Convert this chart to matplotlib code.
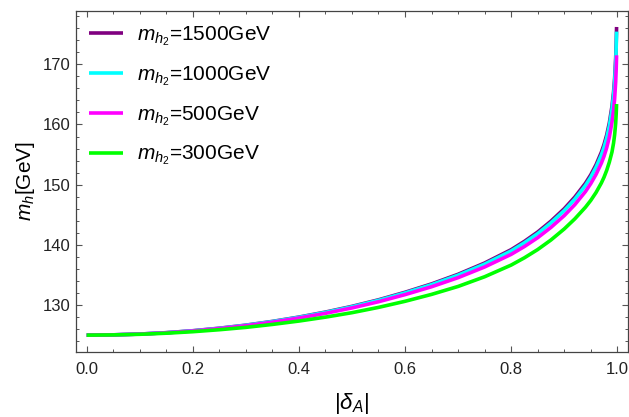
import numpy as np
import matplotlib
matplotlib.use("Agg")
import matplotlib.pyplot as plt
from matplotlib.ticker import MultipleLocator, FormatStrFormatter

plt.rcParams['font.family'] = ['Liberation Sans', 'DejaVu Sans']
plt.rcParams['mathtext.fontset'] = 'custom'
plt.rcParams['mathtext.rm'] = 'Liberation Sans'
plt.rcParams['mathtext.it'] = 'Liberation Sans:italic'

# values
delta = [0.0, 0.05, 0.1, 0.15, 0.2, 0.25, 0.3, 0.35, 0.4, 0.45, 0.5, 0.55, 0.6,
         0.65, 0.7, 0.75, 0.8, 0.825, 0.85, 0.875, 0.9, 0.92, 0.94, 0.95, 0.96,
         0.97, 0.975, 0.98, 0.985, 0.99, 0.993, 0.995, 0.997, 0.998, 0.9987]
mh_1500 = [125.0, 125.05, 125.18, 125.41, 125.73, 126.15, 126.66, 127.28, 128.0,
           128.83, 129.78, 130.87, 132.12, 133.51, 135.11, 136.98, 139.2, 140.58,
           142.13, 143.94, 146.0, 147.94, 150.24, 151.64, 153.32, 155.39, 156.68,
           158.25, 160.25, 163.03, 165.41, 167.66, 171.01, 173.61, 176.2]
mh_1000 = [125.0, 125.05, 125.18, 125.40, 125.72, 126.13, 126.64, 127.25, 127.96,
           128.77, 129.71, 130.78, 132.01, 133.38, 134.96, 136.80, 138.99, 140.35,
           141.87, 143.66, 145.69, 147.60, 149.86, 151.24, 152.90, 154.93, 156.20,
           157.75, 159.72, 162.46, 164.80, 167.02, 170.32, 172.88, 175.43]
mh_500 = [125.0, 125.05, 125.17, 125.39, 125.69, 126.09, 126.57, 127.15, 127.84,
          128.62, 129.52, 130.55, 131.73, 133.04, 134.55, 136.32, 138.42, 139.72,
          141.19, 142.90, 144.85, 146.68, 148.85, 150.17, 151.71, 153.57, 154.72,
          156.12, 157.89, 160.37, 162.38, 164.25, 167.10, 169.28, 171.49]
mh_300 = [125.0, 125.04, 125.14, 125.32, 125.57, 125.90, 126.29, 126.78, 127.34,
          127.99, 128.73, 129.61, 130.62, 131.77, 133.09, 134.70, 136.64, 137.85,
          139.22, 140.81, 142.64, 144.32, 146.25, 147.38, 148.70, 150.28, 151.23,
          152.36, 153.73, 155.42, 156.92, 158.27, 160.20, 161.80, 163.40]

series = [(mh_1500, '#800080', r'$m_{h_2}$=1500GeV'),
          (mh_1000, '#00ffff', r'$m_{h_2}$=1000GeV'),
          (mh_500, '#ff00ff', r'$m_{h_2}$=500GeV'),
          (mh_300, '#00ff00', r'$m_{h_2}$=300GeV')]

fig = plt.figure(figsize=(6.29, 4.17), dpi=100)
ax = fig.add_axes([0.1203, 0.1559, 0.8781, 0.8184])

for vals, col, lab in series:
    ax.plot(delta, vals, color=col, lw=2.6, label=lab, solid_capstyle='butt')

ax.set_xlim(-0.0207, 1.0202)
ax.set_ylim(122.2, 178.9)
ax.xaxis.set_major_locator(MultipleLocator(0.2))
ax.xaxis.set_minor_locator(MultipleLocator(0.05))
ax.yaxis.set_major_locator(MultipleLocator(10))
ax.yaxis.set_minor_locator(MultipleLocator(2))
ax.xaxis.set_major_formatter(FormatStrFormatter('%.1f'))

ax.tick_params(which='both', direction='in', top=True, right=True,
               color='#555555', labelsize=12, labelcolor='#222222')
ax.tick_params(which='major', length=4, width=0.8)
ax.tick_params(which='minor', length=2.5, width=0.7)
ax.tick_params(axis='x', which='major', pad=7)
ax.tick_params(axis='y', which='major', pad=4)
for s in ax.spines.values():
    s.set_color('#444444')
    s.set_linewidth(0.9)

ax.set_xlabel(r'$|\delta_A|$', fontsize=16, labelpad=10)
ax.set_ylabel(r'$m_h$[GeV]', fontsize=15, labelpad=4)

ax.legend(loc='upper left', frameon=False, fontsize=15, handlelength=1.6,
          handletextpad=0.67, labelspacing=0.78, borderaxespad=0.25,
          bbox_to_anchor=(0.0, 1.0))

fig.savefig('out.png', dpi=100)
